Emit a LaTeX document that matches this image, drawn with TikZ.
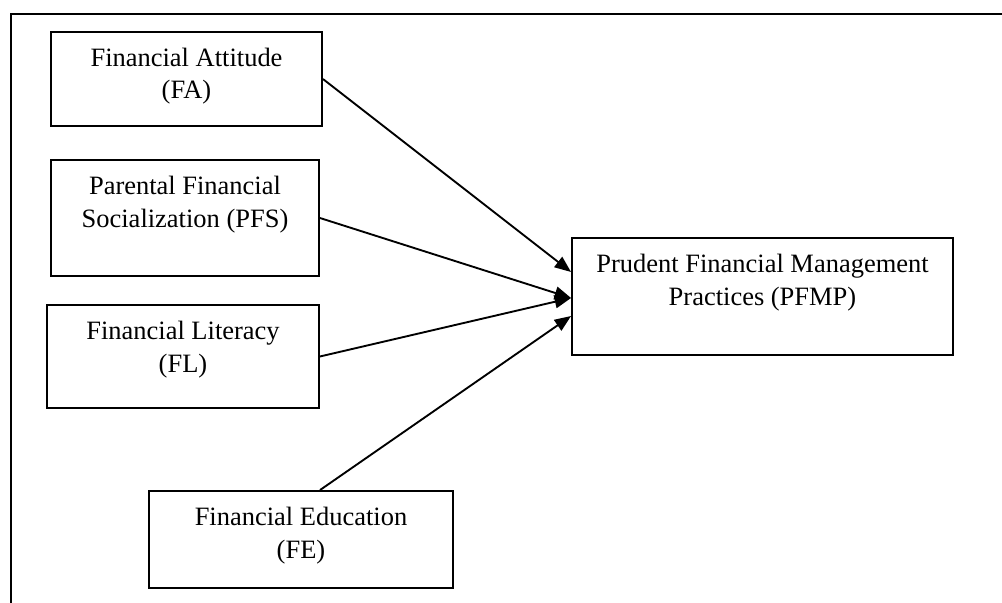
\documentclass[tikz,border=0pt]{standalone}
\usepackage{fontspec}
\setmainfont{Liberation Serif}
\usetikzlibrary{arrows.meta,calc}

\newcommand{\pxl}{0.015cm}

\tikzset{
  boxnode/.style={draw, line width=0.8pt, inner sep=0pt},
  boxtext/.style={anchor=north, inner sep=0pt, align=center, font=\fontsize{11.3}{13.7}\selectfont},
  link/.style={line width=0.8pt, -{Triangle[length=7pt,width=5.5pt]}},
}

\begin{document}
\begin{tikzpicture}[x=0.015cm,y=-0.015cm]
            \useasboundingbox (0,0) rectangle (1002,603);
            % outer frame
            \draw [line width=0.8pt] (11,603) -- (11,14) -- (1002,14);
            % Financial Attitude
            \node [boxnode, minimum width=271*\pxl, minimum height=94*\pxl] (FA) at (186.5,79) {};
            \node [boxtext] (FAtext) at ([yshift=-17*\pxl]FA.north) {Financial Attitude\\(FA)};
            % Parental Financial Socialization
            \node [boxnode, minimum width=268*\pxl, minimum height=116*\pxl] (PFS) at (185,218) {};
            \node [boxtext] (PFStext) at ([yshift=-17*\pxl]PFS.north) {Parental Financial\\Socialization (PFS)};
            % Financial Literacy
            \node [boxnode, minimum width=272*\pxl, minimum height=103*\pxl] (FL) at (183,356.5) {};
            \node [boxtext] (FLtext) at ([yshift=-17*\pxl]FL.north) {Financial Literacy\\(FL)};
            % Financial Education
            \node [boxnode, minimum width=304*\pxl, minimum height=97*\pxl] (FE) at (301,539.5) {};
            \node [boxtext] (FEtext) at ([yshift=-17*\pxl]FE.north) {Financial Education\\(FE)};
            % Prudent Financial Management Practices
            \node [boxnode, minimum width=381*\pxl, minimum height=117*\pxl] (PFMP) at (762.5,296.5) {};
            \node [boxtext] (PFMPtext) at ([yshift=-17*\pxl]PFMP.north) {Prudent Financial Management\\Practices (PFMP)};
            % arrows
            \draw [link] (FA.east) -- ($(PFMP.west)+(0,-24.5)$);
            \draw [link] (PFS.east) -- ($(PFMP.west)+(0,1.5)$);
            \draw [link] (FL.east) -- ($(PFMP.west)+(0,1.5)$);
            \draw [link] ($(FE.north)+(19,0)$) -- ($(PFMP.west)+(0,19.5)$);
         \end{tikzpicture}
\end{document}
